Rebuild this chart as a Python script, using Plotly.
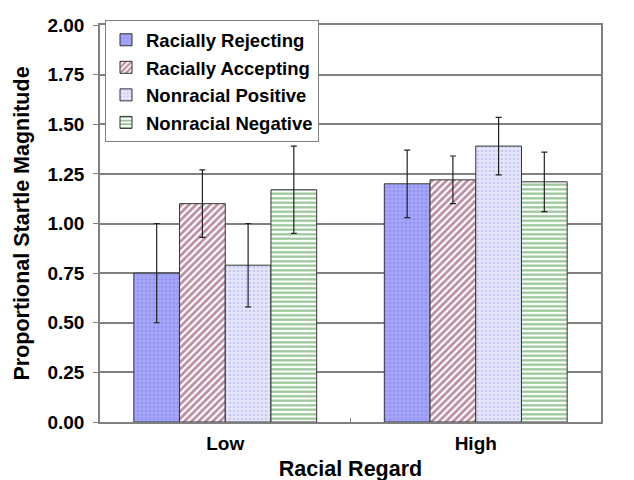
import plotly.graph_objects as go

categories = ["Low", "High"]
series_names = ["Racially Rejecting", "Racially Accepting", "Nonracial Positive", "Nonracial Negative"]
rejecting = [0.75, 1.20]
rejecting_err = [0.25, 0.17]
accepting = [1.10, 1.22]
accepting_err = [0.17, 0.12]
positive = [0.79, 1.39]
positive_err = [0.21, 0.145]
negative = [1.17, 1.21]
negative_err = [0.22, 0.15]
y_ticks = [0, 0.25, 0.5, 0.75, 1.0, 1.25, 1.5, 1.75, 2.0]

values = [rejecting, accepting, positive, negative]
errors = [rejecting_err, accepting_err, positive_err, negative_err]
patterns = [
    dict(shape=".", fgcolor="#8080EE", bgcolor="#A6A6F8", size=4, solidity=0.35),
    dict(shape="/", fgcolor="#7A1E48", bgcolor="#FFFFFF", size=5, solidity=0.55),
    dict(shape=".", fgcolor="#A8A8EC", bgcolor="#E6E6FA", size=4, solidity=0.35),
    dict(shape="-", fgcolor="#2E8B2E", bgcolor="#FFFFFF", size=4.5, solidity=0.5),
]

FONT = "Liberation Sans, Arial, sans-serif"

fig = go.Figure()
for name, v, e, p in zip(series_names, values, errors, patterns):
    fig.add_trace(go.Bar(
        name=name, x=categories, y=v, legendgroup=name,
        marker=dict(color=p["bgcolor"], pattern=p, line=dict(color="#333333", width=1)),
        error_y=dict(type="data", array=e, visible=True, color="#222222", thickness=1.2, width=3),
    ))

fig.update_layout(
    width=634, height=480,
    margin=dict(l=92, r=41, t=12, b=66),
    paper_bgcolor="white", plot_bgcolor="white",
    barmode="group", bargap=0.27, bargroupgap=0,
    font=dict(family=FONT, size=19, color="black"),
    showlegend=True,
    legend=dict(
        x=0.01, y=1.012, xanchor="left", yanchor="top",
        bgcolor="white", bordercolor="#808080", borderwidth=1,
        font=dict(family=FONT, size=18.5, color="black", weight="bold"),
        tracegroupgap=0.5, itemwidth=30,
    ),
    xaxis=dict(
        automargin=False,
        title=dict(text="<b>Racial Regard</b>", font=dict(size=21.5), standoff=8),
        tickfont=dict(size=19, weight="bold"), ticklabelstandoff=3,
        showline=True, linecolor="#808080", linewidth=1.5, mirror=True,
        ticks="inside", tickson="boundaries", ticklen=4, tickcolor="#808080",
        showgrid=False,
    ),
    yaxis=dict(
        automargin=False,
        title=dict(text="<b>Proportional Startle Magnitude</b>", font=dict(size=21.5), standoff=12),
        range=[0, 2.0], tickvals=y_ticks, tickformat=".2f",
        tickfont=dict(size=19, weight="bold"), ticklabelstandoff=5,
        showline=True, linecolor="#808080", linewidth=1.5, mirror=True,
        ticks="outside", ticklen=5, tickcolor="#808080",
        showgrid=True, gridcolor="#808080", gridwidth=1.5,
        zeroline=False,
    ),
)

fig.write_html("out.html")
